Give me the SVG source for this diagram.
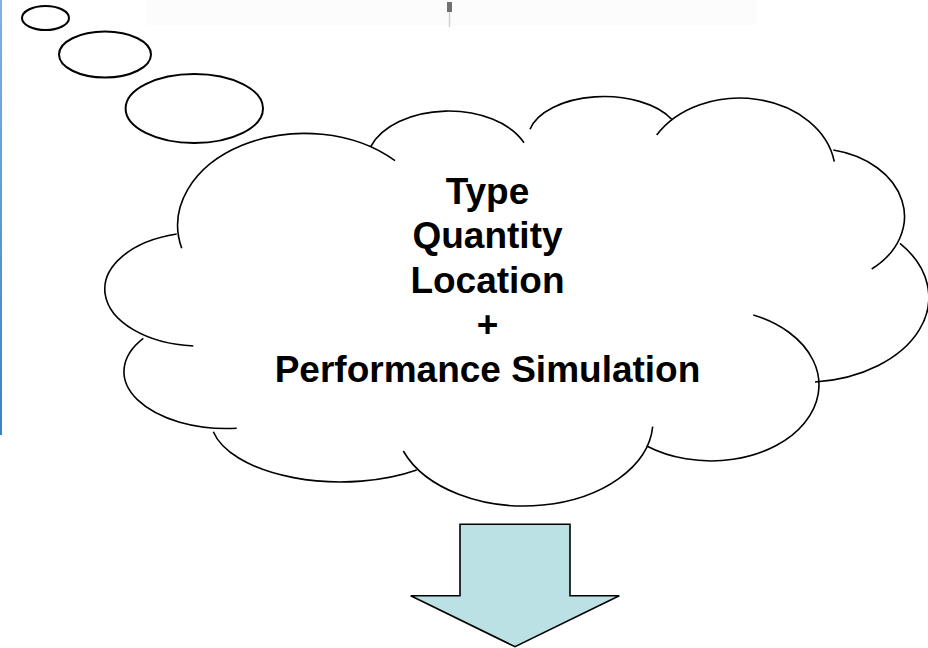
<svg xmlns="http://www.w3.org/2000/svg" width="928" height="648" viewBox="0 0 928 648">
<defs>
<linearGradient id="blueEdge" x1="0" y1="0" x2="0" y2="1">
<stop offset="0" stop-color="#7fb2e0"/>
<stop offset="1" stop-color="#3f7fc8"/>
</linearGradient>
</defs>
<style>
.bubble{fill:#ffffff;stroke:#000000;stroke-width:2}
.lobe{fill:none;stroke:#000000;stroke-width:1.6;stroke-linecap:butt}
.label{font-family:"Liberation Sans",Arial,Helvetica,sans-serif;font-weight:bold;font-size:37px;fill:#000000;text-anchor:middle}
.arrow{fill:#bce1e4;stroke:#000000;stroke-width:1.6;stroke-linejoin:miter}
</style>
<rect x="0" y="0" width="928" height="648" fill="#ffffff"/>
<g id="top-strip">
<rect x="146" y="0" width="611" height="25" fill="#fcfcfc"/>
<rect x="447" y="2" width="5" height="10" fill="#707070"/>
<line x1="449.5" y1="12" x2="449.5" y2="27" stroke="#d0d0d0" stroke-width="1.5"/>
</g>
<g id="left-edge">
<rect x="0" y="0" width="2" height="435" fill="url(#blueEdge)"/>
</g>
<g id="bubble-1"><ellipse class="bubble" cx="45.5" cy="18" rx="23.5" ry="12"/></g>
<g id="bubble-2"><ellipse class="bubble" cx="105" cy="54.5" rx="46" ry="23"/></g>
<g id="bubble-3"><ellipse class="bubble" cx="194.3" cy="108.5" rx="68.7" ry="34.5"/></g>
<g id="cloud">
<path class="lobe" d="M 181.7 248.3 A 127 92 0 0 1 395 160.7"/>
<path class="lobe" d="M 370.7 146.7 A 82 52 0 0 1 524 142.7"/>
<path class="lobe" d="M 530 129.3 A 76 42 0 0 1 671.7 119.3"/>
<path class="lobe" d="M 656.7 135 A 96 75 0 0 1 834.3 161.7"/>
<path class="lobe" d="M 833.3 150 A 90 68 0 0 1 871.7 269"/>
<path class="lobe" d="M 900 243.3 A 126 85 0 0 1 815 382"/>
<path class="lobe" d="M 753.3 315 A 108 76 0 1 1 646.7 446"/>
<path class="lobe" d="M 652.7 426.7 A 129 85 0 0 1 403.3 451"/>
<path class="lobe" d="M 213.3 431.7 A 130 63 0 0 0 416.7 470"/>
<path class="lobe" d="M 143.3 338.3 A 103 57 0 0 0 236.7 428.3"/>
<path class="lobe" d="M 193.3 346 A 96 57 0 0 1 176.7 234"/>
<text class="label" x="487.5" y="203.5">Type</text>
<text class="label" x="487.5" y="248">Quantity</text>
<text class="label" x="487.5" y="292.5">Location</text>
<text class="label" x="487.5" y="337">+</text>
<text class="label" x="487.5" y="381.5">Performance Simulation</text>
</g>
<g id="down-arrow">
<polygon class="arrow" points="460,524.3 570,524.3 570,595.7 619.3,595.7 515,646.7 410.7,595.7 460,595.7"/>
</g>
</svg>
